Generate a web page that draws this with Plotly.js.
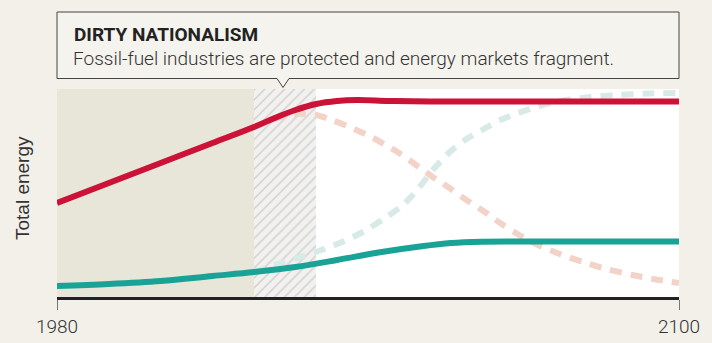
<!DOCTYPE html>
<html>
<head>
<meta charset="utf-8">
<script src="https://cdn.plot.ly/plotly-3.0.1.min.js"></script>
<style>
html,body{margin:0;padding:0;background:#f3f0ea;}
#chart{width:712px;height:343px;}
</style>
</head>
<body>
<div id="chart"></div>
<script>
// ---- data ----
const title = "DIRTY NATIONALISM";
const subtitle = "Fossil-fuel industries are protected and energy markets fragment.";
const yTitle = "Total energy";
const tickVals = [1980, 2100];
const tickText = ["1980", "2100"];

const historyStart = 1980, historyEnd = 2018, transitionEnd = 2030;

const redYears = [1980,1990,2000,2010,2018,2022,2026,2030,2034,2038,2044,2052,2070,2100];
const redVals  = [94,114,134,154,170,179,187,193,196,197,196,195.5,195.5,195.5];

const tealYears = [1980,1990,2000,2010,2018,2026,2034,2042,2050,2056,2062,2070,2085,2100];
const tealVals  = [11,13,16,21,25,30,37,44.5,50.5,54,55.3,55.5,55.5,55.5];

const redDashYears = [2018,2022,2026,2030,2033,2036.5,2041,2046,2049,2052.5,2056,2059,2062,2065.5,2068.5,2072,2077,2081.5,2086,2091,2095,2100];
const redDashVals  = [170,178,183,182,177,170,159,144,133,120,108,97,87,74,64,54,43,35,28,22,18,14];

const tealDashYears = [2018,2022,2027,2031,2035,2039,2043,2046.5,2049.5,2052.5,2056,2059,2062,2065.5,2069,2073,2078,2083,2088,2094,2100];
const tealDashVals  = [25,32,40,47,55,65,78,91,107,127,146,158,167,177,184,191,197,200,202,203.5,204];

const yMax = 208;

// ---- chart ----
const bg = "#f3f0ea";
const traces = [
  {type:"bar", x:[(historyEnd+transitionEnd)/2], y:[yMax], width:[transitionEnd-historyEnd], base:0,
   marker:{color:"#f1f0ee", line:{width:0},
     pattern:{shape:"/", fgcolor:"#cfcfd1", bgcolor:"#f2f1ef", size:7, solidity:0.2}},
   hoverinfo:"skip", showlegend:false},
  {type:"scatter", mode:"lines", x:redDashYears, y:redDashVals,
   line:{color:"#f3d2c8", width:6, dash:"12px,9px", shape:"spline", smoothing:0.8}, hoverinfo:"skip"},
  {type:"scatter", mode:"lines", x:tealDashYears, y:tealDashVals,
   line:{color:"#d8eae7", width:6, dash:"12px,9px", shape:"spline", smoothing:0.8}, hoverinfo:"skip"},
  {type:"scatter", mode:"lines", x:tealYears, y:tealVals,
   line:{color:"#18a396", width:6, shape:"spline", smoothing:1}, hoverinfo:"skip"},
  {type:"scatter", mode:"lines", x:redYears, y:redVals,
   line:{color:"#cc1236", width:6, shape:"spline", smoothing:1}, hoverinfo:"skip"}
];

const L=57, R=679, T=89, B=297;
const W=R-L, H=B-T;
const px = v => (v-L)/W;
const py = v => (B-v)/H;

const boxTop=py(12), boxBot=py(78.5), tip=py(87.5);
const pX=283, pW=6;
const calloutPath = `M ${px(57)} ${boxTop} L ${px(679)} ${boxTop} L ${px(679)} ${boxBot} L ${px(pX+pW)} ${boxBot} L ${px(pX)} ${tip} L ${px(pX-pW)} ${boxBot} L ${px(57)} ${boxBot} Z`;

const layout = {
  width:712, height:343,
  margin:{l:L, r:712-R, t:T, b:343-B, pad:0},
  paper_bgcolor:bg, plot_bgcolor:"#ffffff",
  showlegend:false,
  bargap:0,
  xaxis:{range:[1980,2100], showgrid:false, zeroline:false,
    showline:true, linecolor:"#222222", linewidth:3,
    tickmode:"array", tickvals:tickVals, ticktext:tickText,
    ticks:"outside", ticklen:10, tickwidth:1, tickcolor:"#777",
    tickfont:{family:"Roboto, sans-serif", size:19, color:"#333", weight:300}},
  yaxis:{range:[0,yMax], showgrid:false, zeroline:false, showline:false, showticklabels:false, ticks:""},
  shapes:[
    {type:"rect", xref:"x", yref:"y", x0:historyStart, x1:historyEnd, y0:0, y1:yMax,
     fillcolor:"#e8e5d9", line:{width:0}, layer:"below"},
    {type:"path", xref:"paper", yref:"paper", path:calloutPath,
     fillcolor:"#f5f3ee", line:{color:"#444444", width:1}}
  ],
  annotations:[
    {xref:"paper", yref:"paper", x:px(72), y:py(34), xanchor:"left", yanchor:"middle", showarrow:false,
     text:"<b>"+title+"</b>", font:{family:"Roboto, sans-serif", size:19, color:"#222"}},
    {xref:"paper", yref:"paper", x:px(71), y:py(58), xanchor:"left", yanchor:"middle", showarrow:false,
     text:subtitle, font:{family:"Roboto, sans-serif", size:19, color:"#333", weight:300}},
    {xref:"paper", yref:"paper", x:px(22), y:py(188), xanchor:"center", yanchor:"middle", showarrow:false,
     textangle:-90, text:yTitle, font:{family:"Liberation Sans, Arial, sans-serif", size:19, color:"#333"}}
  ]
};

Plotly.newPlot("chart", traces, layout, {staticPlot:true, displayModeBar:false});
</script>
</body>
</html>
